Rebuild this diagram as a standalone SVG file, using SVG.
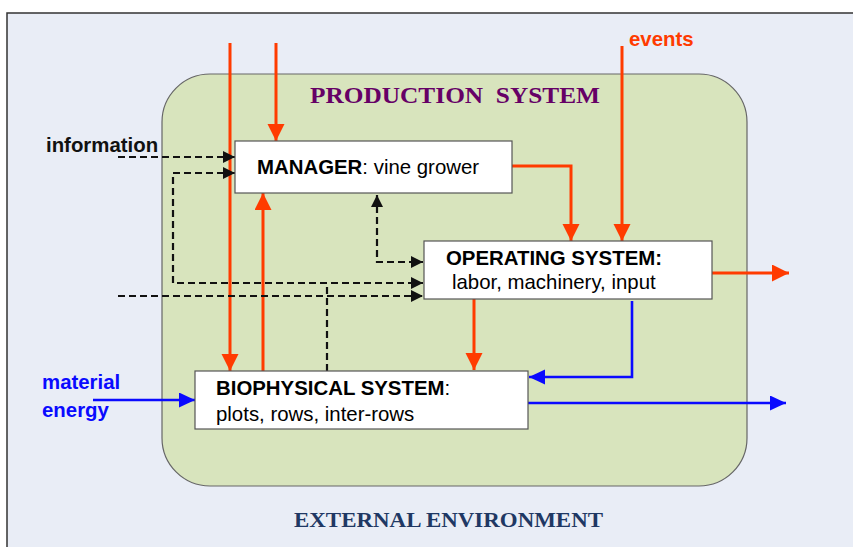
<svg xmlns="http://www.w3.org/2000/svg" width="853" height="547" viewBox="0 0 853 547">
  <style>
    .box { fill: #ffffff; stroke: #555555; stroke-width: 1.2; }
    .red { fill: none; stroke: #ff3b00; stroke-width: 3; }
    .blue { fill: none; stroke: #0a0aff; stroke-width: 2.6; }
    .dash { fill: none; stroke: #111111; stroke-width: 2.2; stroke-dasharray: 7 4; }
    .sans { font-family: "Liberation Sans", Arial, sans-serif; font-size: 20.4px; }
    .b { font-weight: bold; }
    .serif { font-family: "Liberation Serif", "Times New Roman", serif; font-weight: bold; }
  </style>
  <defs>
    <marker id="arrRed" markerUnits="userSpaceOnUse" markerWidth="18" markerHeight="18" refX="17" refY="8.5" orient="auto">
      <path d="M0,0 L17,8.5 L0,17 Z" fill="#ff3b00"/>
    </marker>
    <marker id="arrBlue" markerUnits="userSpaceOnUse" markerWidth="18" markerHeight="16" refX="16" refY="7.5" orient="auto">
      <path d="M0,0 L16,7.5 L0,15 Z" fill="#0a0aff"/>
    </marker>
    <marker id="arrBlack" markerUnits="userSpaceOnUse" markerWidth="14" markerHeight="14" refX="12" refY="6" orient="auto-start-reverse">
      <path d="M0,0 L12,6 L0,12 Z" fill="#111111"/>
    </marker>
  </defs>

  <!-- environment frame -->
  <rect x="0" y="0" width="853" height="547" fill="#ffffff"/>
  <rect x="7" y="13" width="860" height="550" fill="#e9edf6" stroke="#333333" stroke-width="1.5"/>

  <!-- production system container -->
  <g id="production-system">
    <rect x="162" y="74" width="585" height="412" rx="48" ry="48" fill="#d8e4bd" stroke="#666666" stroke-width="1.2"/>
    <text class="serif" x="310" y="103" font-size="24" fill="#660066" textLength="290" lengthAdjust="spacingAndGlyphs">PRODUCTION&#160; SYSTEM</text>
  </g>

  <g id="external-environment">
    <text class="serif" x="294" y="527" font-size="21" fill="#1f3864" textLength="309" lengthAdjust="spacingAndGlyphs">EXTERNAL ENVIRONMENT</text>
  </g>

  <!-- flows -->
  <g id="connectors">
    <!-- red: decisions / work flows -->
    <line class="red" x1="230" y1="43" x2="230" y2="371" marker-end="url(#arrRed)"/>
    <line class="red" x1="276" y1="43" x2="276" y2="141" marker-end="url(#arrRed)"/>
    <line class="red" x1="263" y1="371" x2="263" y2="193" marker-end="url(#arrRed)"/>
    <line class="red" x1="622" y1="46" x2="622" y2="241" marker-end="url(#arrRed)"/>
    <polyline class="red" points="512,166 571,166 571,241" marker-end="url(#arrRed)"/>
    <line class="red" x1="712" y1="273" x2="789" y2="273" marker-end="url(#arrRed)"/>
    <line class="red" x1="474" y1="299" x2="474" y2="370" marker-end="url(#arrRed)" stroke="#ff1a00"/>

    <!-- blue: material / energy -->
    <line class="blue" x1="93" y1="400" x2="195" y2="400" marker-end="url(#arrBlue)"/>
    <polyline class="blue" points="632,301 632,377 529,377" marker-end="url(#arrBlue)"/>
    <line class="blue" x1="528" y1="403" x2="786" y2="403" marker-end="url(#arrBlue)"/>

    <!-- dashed: information -->
    <line class="dash" x1="118" y1="157" x2="235" y2="157" marker-end="url(#arrBlack)"/>
    <polyline class="dash" points="235,173 173,173 173,283 423,283" marker-start="url(#arrBlack)" marker-end="url(#arrBlack)"/>
    <line class="dash" x1="118" y1="296" x2="423" y2="296" marker-end="url(#arrBlack)"/>
    <line class="dash" x1="327" y1="371" x2="327" y2="283"/>
    <polyline class="dash" points="377,195 377,262 423,262" marker-start="url(#arrBlack)" marker-end="url(#arrBlack)"/>
  </g>

  <!-- nodes -->
  <g id="manager">
    <rect class="box" x="235" y="141" width="277" height="52"/>
    <text class="sans" x="257" y="174"><tspan class="b">MANAGER</tspan>: vine grower</text>
  </g>

  <g id="operating-system">
    <rect class="box" x="424" y="241" width="288" height="58"/>
    <text class="sans b" x="446" y="265">OPERATING SYSTEM:</text>
    <text class="sans" x="452" y="289">labor, machinery, input</text>
  </g>

  <g id="biophysical-system">
    <rect class="box" x="195" y="371" width="333" height="58"/>
    <text class="sans" x="216" y="395"><tspan class="b">BIOPHYSICAL SYSTEM</tspan>:</text>
    <text class="sans" x="216" y="421">plots, rows, inter-rows</text>
  </g>

  <!-- free labels -->
  <g id="labels">
    <text class="sans b" x="46" y="152" fill="#111111">information</text>
    <text class="sans b" x="629" y="46" fill="#ff3b00">events</text>
    <text class="sans b" x="42" y="389" fill="#0a0aff">material</text>
    <text class="sans b" x="42" y="417" fill="#0a0aff">energy</text>
  </g>
</svg>
